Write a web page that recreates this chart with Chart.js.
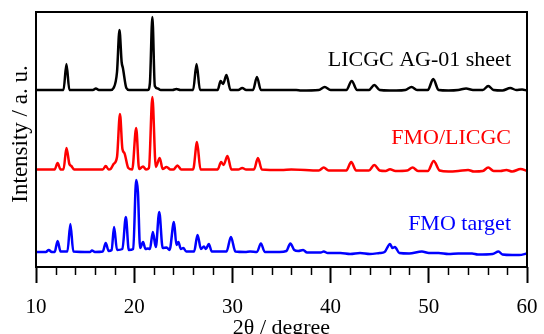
<!DOCTYPE html>
<html>
<head>
<meta charset="utf-8">
<script src="https://cdn.jsdelivr.net/npm/chart.js@4.4.1/dist/chart.umd.min.js"></script>
<style>
  body { margin: 0; background: #fff; }
  #wrap { width: 544px; height: 334px; }
</style>
</head>
<body>
<div id="wrap"><canvas id="xrdChart" width="544" height="334"></canvas></div>
<script>
// 2θ / intensity pairs (arbitrary units, traces already offset)
const sheetPts = [[10,177],[12.8,177],[13.1,203],[13.4,177],[15.8,177],[16.1,178.5],[16.4,177],[17.6,177],[17.9,179],[18.25,195],[18.5,237],[18.72,205],[18.85,199],[19.2,179],[19.5,177],[21.4,177],[21.6,184],[21.85,250],[22.1,181],[22.4,178.5],[22.7,177],[23.9,177],[24.3,178],[24.7,177],[26.0,177],[26.35,203],[26.7,177],[28.5,177],[28.8,186],[29.05,183],[29.4,192],[29.8,177],[30.6,177],[31.0,179],[31.4,177],[32.1,177],[32.5,190],[32.9,177],[36.5,177],[37,176.5],[38.8,177],[39.4,180],[40,177],[41.6,177],[42.15,186],[42.7,177],[43.9,177],[44.45,182],[45.0,177],[46.0,176.5],[46.7,176.5],[47.6,177],[48.25,180],[48.8,177],[49.9,177],[50.45,188],[51.0,177],[52.0,176.5],[53.0,177],[53.8,178.5],[54.5,177],[55.5,177],[56.05,181],[56.6,177],[57.5,176.5],[58.3,179],[58.9,177],[59.5,177.5],[60,176.5]];

const comboPts = [[10,97.5],[11.9,97.5],[12.2,104],[12.5,97.5],[12.8,97.5],[13.1,119],[13.4,103],[13.6,101],[13.9,97.5],[16.8,97.5],[17.1,101],[17.4,97.5],[17.6,98],[17.9,103],[18.25,110],[18.55,153],[18.8,118],[19.0,114],[19.4,99],[19.8,97.5],[20.2,139],[20.5,98],[20.9,100.5],[21.2,97.5],[21.5,99],[21.85,170],[22.2,100],[22.6,109],[22.9,98],[23.3,100],[23.7,97.5],[24.0,97.5],[24.4,101.5],[24.8,97.5],[26.0,97.5],[26.4,125],[26.75,97.5],[28.5,97.5],[28.85,105],[29.1,102],[29.5,111],[29.9,97.5],[30.6,97.5],[31.0,99],[31.4,97.5],[32.2,97.5],[32.6,109],[33.0,97.5],[35.0,97],[36.0,97.5],[38.8,96.5],[39.3,99.5],[39.8,96.5],[41.6,96.5],[42.1,105],[42.6,96.5],[43.9,96.5],[44.45,102],[45.0,96.5],[45.6,96],[46.05,97.7],[46.6,96],[47.8,96.5],[48.35,99.5],[48.9,96],[49.9,96],[50.5,106],[51.1,96.5],[52,95.5],[53,96],[54.0,97],[54.6,95.5],[55.5,96],[56.05,99.5],[56.6,96],[57.3,96],[57.9,97],[58.5,95.5],[59.35,98],[60,96]];

const targetPts = [[10,15],[11.0,15],[11.3,17],[11.6,15],[11.9,15],[12.2,26],[12.5,15.5],[13.2,15.5],[13.5,43],[13.8,15.5],[15.5,15],[15.7,16.5],[16.0,15],[16.8,15.5],[17.1,24],[17.4,16],[17.7,17],[17.95,40],[18.25,17],[18.8,18],[19.15,50],[19.45,17],[19.9,18],[20.2,87],[20.38,75],[20.6,19],[20.9,25],[21.15,18],[21.4,18.5],[21.6,18],[21.9,35],[22.2,20],[22.55,55],[22.9,19],[23.3,19.5],[23.6,17],[24.05,45],[24.3,22],[24.5,25],[24.75,18],[25.0,19],[25.3,15.5],[26.1,15.5],[26.45,32],[26.8,18],[27.1,20.5],[27.3,18],[27.6,23],[27.9,15.5],[29.4,15.5],[29.85,30],[30.3,15.5],[31.3,15],[31.8,15.5],[32.5,15],[32.9,23.5],[33.3,15],[34.8,15],[35.5,16],[35.9,23.5],[36.3,17],[36.7,16],[37.2,17],[37.6,14.5],[39.0,14.5],[39.3,15.5],[39.7,14],[41,14],[42,13],[43,14],[44,13],[45,14],[45.5,15],[46.05,23],[46.3,19],[46.55,20],[47.0,14],[48,13.5],[49.3,15.5],[50,14],[51,14],[52,13],[53,13.5],[54.4,13.5],[55,12.5],[56.5,13],[57.1,15.5],[57.5,12.5],[58.5,12],[59.2,12],[60,13.5]];

const seriesNames = ["LICGC AG-01 sheet", "FMO/LICGC", "FMO target"];
const seriesColors = ["#000000", "#ff0000", "#0000ff"];
const xTicks = [10, 20, 30, 40, 50, 60];
const minorTicks = [12, 14, 16, 18, 22, 24, 26, 28, 32, 34, 36, 38, 42, 44, 46, 48, 52, 54, 56, 58];
const yTitle = "Intensity / a. u.";

const toXY = (pts) => pts.map(([x, y]) => ({ x, y }));
const serif = '"Liberation Serif", "Times New Roman", serif';

// frame, minor ticks, y title and in-plot labels
const decorPlugin = {
    id: "decor",
    afterDraw(chart) {
        const { ctx, chartArea: a } = chart;
        const xs = chart.scales.x;
        ctx.save();
        ctx.strokeStyle = "#000";
        ctx.lineWidth = 2;
        ctx.strokeRect(a.left, a.top, a.right - a.left, a.bottom - a.top);

        ctx.lineWidth = 1.5;
        minorTicks.forEach((v) => {
            const px = Math.round(xs.getPixelForValue(v)) + 0.5;
            ctx.beginPath();
            ctx.moveTo(px, a.bottom);
            ctx.lineTo(px, a.bottom + 8);
            ctx.stroke();
        });

        ctx.font = "22px " + serif;
        ctx.textAlign = "right";
        ctx.textBaseline = "middle";
        const labelY = [60, 138, 224];
        seriesNames.forEach((name, i) => {
            ctx.fillStyle = seriesColors[i];
            ctx.fillText(name, a.right - 16, labelY[i]);
        });

        // y axis title, rotated
        ctx.translate(21, 134);
        ctx.rotate(-Math.PI / 2);
        ctx.textAlign = "center";
        ctx.fillStyle = "#000";
        ctx.font = "23px " + serif;
        ctx.fillText(yTitle, 0, 0);
        ctx.restore();
    },
};

const ctx = document.getElementById("xrdChart").getContext("2d");
new Chart(ctx, {
    type: "line",
    data: {
        datasets: [sheetPts, comboPts, targetPts].map((pts, i) => ({
            label: seriesNames[i],
            data: toXY(pts),
            borderColor: seriesColors[i],
            borderWidth: 2.5,
            pointRadius: 0,
            cubicInterpolationMode: "monotone",
            fill: false,
        })),
    },
    options: {
        responsive: false,
        animation: false,
        layout: { padding: { top: 12, right: 17, left: 0, bottom: 0 } },
        plugins: { legend: { display: false }, tooltip: { enabled: false } },
        scales: {
            x: {
                type: "linear",
                min: 10,
                max: 60,
                afterBuildTicks: (scale) => {
                    scale.ticks = xTicks.map((v) => ({ value: v }));
                },
                afterFit: (scale) => {
                    scale.height = 67;
                    scale.paddingLeft = 0;
                    scale.paddingRight = 0;
                },
                ticks: {
                    color: "#000",
                    padding: 12,
                    maxRotation: 0,
                    font: { family: serif, size: 21 },
                },
                grid: {
                    drawOnChartArea: false,
                    tickLength: 16,
                    tickWidth: 2,
                    tickColor: "#000",
                },
                border: { display: false },
                title: {
                    display: true,
                    text: "2θ / degree",
                    color: "#000",
                    font: { family: serif, size: 22, lineHeight: 1 },
                    padding: { top: 0, bottom: -5 },
                },
            },
            y: {
                min: 0,
                max: 255,
                afterFit: (scale) => { scale.width = 36; },
                ticks: { display: false },
                grid: { display: false },
                border: { display: false },
            },
        },
    },
    plugins: [decorPlugin],
});
</script>
</body>
</html>
